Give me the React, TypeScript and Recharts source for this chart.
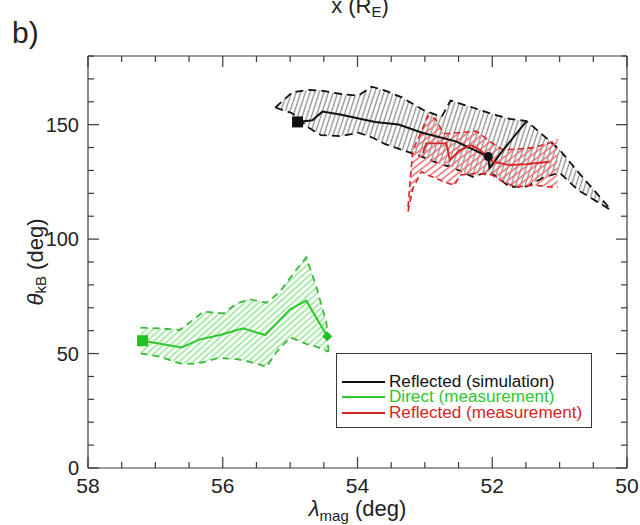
import React from "react";
import { ComposedChart, Area, Line, Scatter, XAxis, YAxis, Legend } from "recharts";

const xTicks = [58, 57.5, 57, 56.5, 56, 55.5, 55, 54.5, 54, 53.5, 53, 52.5, 52, 51.5, 51, 50.5, 50];
const xLabels = [58, 56, 54, 52, 50];
const yTicks = [0, 10, 20, 30, 40, 50, 60, 70, 80, 90, 100, 110, 120, 130, 140, 150, 160, 170, 180];
const yLabels = [0, 50, 100, 150];

// reflected, simulation (black)
const simLambda = [54.89, 54.67, 54.52, 54.24, 53.74, 53.39, 53.04, 52.54, 52.06, 52.04, 51.84, 51.49];
const simTheta = [151.2, 151.9, 155.7, 154.3, 151.2, 150.1, 146.5, 142.7, 136.1, 131.0, 138.9, 151.5];
const simBandLambda = [55.22, 54.97, 54.74, 54.54, 54.24, 53.99, 53.79, 53.59, 53.34, 53.0, 52.75, 52.62, 52.29, 52.04, 51.74, 51.49, 51.23, 51.0, 50.73, 50.23];
const simBandLow = [157.5, 155, 149, 145.4, 145, 146.5, 144.5, 141.5, 139, 135.5, 132.5, 131.7, 127.2, 129.5, 122.8, 123, 127, 129, 121.5, 112.5];
const simBandHigh = [157.5, 164.1, 165.2, 164.9, 163.4, 162.7, 166.6, 164.9, 161.9, 156, 153.5, 160.5, 157.5, 155, 152.5, 151.6, 145, 139, 129.5, 112.5];
const simStart = [{ x: 54.89, y: 151.2 }];
const simMark = [{ x: 52.06, y: 136.1 }];

// reflected, measurement (red)
const redLambda = [53.03, 52.98, 52.68, 52.63, 52.48, 52.31, 52.18, 52.11, 51.99, 51.74, 51.49, 51.15];
const redTheta = [137.6, 141.8, 141.8, 134.5, 138.9, 141, 138.9, 137.1, 133.8, 132.3, 132.8, 133.8];
const redBandLambda = [53.25, 53.18, 53.05, 52.96, 52.84, 52.72, 52.56, 52.48, 52.24, 52.0, 51.84, 51.64, 51.38, 51.15, 51.03];
const redBandLow = [112, 122, 129.5, 128, 126.7, 125, 123.6, 128, 128.7, 128, 125, 122.8, 123.6, 122.8, 122.8];
const redBandHigh = [114, 139, 147, 153.8, 152.4, 146, 146.5, 146.5, 147.2, 142, 139, 139.3, 140, 142, 143.5];

// direct, measurement (green)
const greenLambda = [57.19, 56.61, 56.34, 56.04, 55.7, 55.37, 55.0, 54.76, 54.45];
const greenTheta = [55.6, 52.7, 56.2, 58.1, 61.0, 58.1, 69.3, 73.1, 57.6];
const greenBandLambda = [57.22, 56.93, 56.64, 56.44, 56.29, 56.09, 55.99, 55.79, 55.6, 55.35, 55.2, 55.15, 55.0, 54.95, 54.76, 54.71, 54.61, 54.46, 54.43];
const greenBandLow = [50.1, 48.6, 45.7, 45.5, 46.2, 47.9, 47.9, 47.6, 46.4, 44.2, 50.8, 52.3, 57.1, 56.5, 54.2, 53.7, 53.0, 51.2, 50.8];
const greenBandHigh = [61.3, 61.0, 60.3, 64.6, 68.3, 67.8, 67.5, 71.9, 73.7, 72.2, 75.8, 77.0, 83.0, 85.0, 92.0, 87.7, 79.2, 63.2, 50.8];
const greenStart = [{ x: 57.19, y: 55.6 }];
const greenEnd = [{ x: 54.45, y: 57.6 }];

const legendNames = ["Reflected (simulation)", "Direct (measurement)", "Reflected (measurement)"];
const legendColors = ["#111111", "#2ec82e", "#d42424"];

const AXIS = "#3a3a3a";
const FONT = "'Liberation Sans', Arial, Helvetica, sans-serif";

const toLine = (xs: number[], ys: number[]) => xs.map((x, i) => ({ x, y: ys[i] }));
const toBand = (xs: number[], lo: number[], hi: number[]) => xs.map((x, i) => ({ x, range: [lo[i], hi[i]] }));

const simLine = toLine(simLambda, simTheta);
const redLine = toLine(redLambda, redTheta);
const greenLine = toLine(greenLambda, greenTheta);
const simBand = toBand(simBandLambda, simBandLow, simBandHigh);
const redBand = toBand(redBandLambda, redBandLow, redBandHigh);
const greenBand = toBand(greenBandLambda, greenBandLow, greenBandHigh);

// ticks point into the plot; long ones carry a label
const bottomTick = (props: any) => {
  const { x, y, payload } = props;
  const major = xLabels.includes(payload.value);
  const len = major ? 11 : 6;
  return (
    <g>
      <path d={`M${x},${y}V${y - len}`} stroke={AXIS} strokeWidth={1.2} fill="none" />
      {major && (
        <text x={x} y={y + 25} textAnchor="middle" fontSize={21} fill="#222" fontFamily={FONT}>
          {payload.value}
        </text>
      )}
    </g>
  );
};

const topTick = (props: any) => {
  const { x, y, payload } = props;
  const len = xLabels.includes(payload.value) ? 11 : 6;
  return <path d={`M${x},${y}V${y + len}`} stroke={AXIS} strokeWidth={1.2} fill="none" />;
};

const leftTick = (props: any) => {
  const { x, y, payload } = props;
  const major = yLabels.includes(payload.value);
  const len = major ? 11 : 6;
  return (
    <g>
      <path d={`M${x},${y}H${x + len}`} stroke={AXIS} strokeWidth={1.2} fill="none" />
      {major && (
        <text x={x - 9} y={y + 7} textAnchor="end" fontSize={20} fill="#222" fontFamily={FONT}>
          {payload.value}
        </text>
      )}
    </g>
  );
};

const rightTick = (props: any) => {
  const { x, y, payload } = props;
  const len = yLabels.includes(payload.value) ? 11 : 6;
  return <path d={`M${x},${y}H${x - len}`} stroke={AXIS} strokeWidth={1.2} fill="none" />;
};

const XTitle = (props: any) => {
  const { viewBox } = props;
  const cx = viewBox.x + viewBox.width / 2;
  const by = viewBox.y + 48;
  return (
    <text x={cx} y={by} textAnchor="middle" fontSize={22} fill="#222" fontFamily={FONT}>
      <tspan fontStyle="italic">λ</tspan>
      <tspan fontSize={15} dy={5}>mag</tspan>
      <tspan dy={-5}> (deg)</tspan>
    </text>
  );
};

const YTitle = (props: any) => {
  const { viewBox } = props;
  const cx = 35;
  const cy = viewBox.y + viewBox.height / 2;
  return (
    <text
      x={cx}
      y={cy}
      textAnchor="middle"
      fontSize={22}
      fill="#222"
      fontFamily={FONT}
      transform={`rotate(-90, ${cx}, ${cy})`}
      dominantBaseline="central"
    >
      <tspan fontStyle="italic">θ</tspan>
      <tspan fontSize={15} dy={5}>kB</tspan>
      <tspan dy={-5}> (deg)</tspan>
    </text>
  );
};

const LegendBox = () => (
  <div
    style={{
      border: `1px solid ${AXIS}`,
      background: "#fff",
      width: 256,
      height: 75,
      boxSizing: "border-box",
      padding: "20px 0 0 5px",
      fontFamily: FONT,
      fontSize: 16,
      lineHeight: "16px",
    }}
  >
    {legendNames.map((name, i) => (
      <div key={name} style={{ display: "flex", alignItems: "center", color: legendColors[i], height: 15.6 }}>
        <span style={{ display: "inline-block", width: 43, height: 2, background: legendColors[i], marginRight: 4 }} />
        <span style={{ display: "inline-block", transform: "scaleX(1.07)", transformOrigin: "left center" }}>{name}</span>
      </div>
    ))}
  </div>
);

const square = (color: string, size: number) => (p: any) => (
  <rect x={p.cx - size / 2} y={p.cy - size / 2} width={size} height={size} fill={color} />
);
const diamond = (color: string, size: number) => (p: any) => (
  <polygon
    points={`${p.cx},${p.cy - size / 2} ${p.cx + size / 2},${p.cy} ${p.cx},${p.cy + size / 2} ${p.cx - size / 2},${p.cy}`}
    fill={color}
  />
);
const circle = (color: string, r: number) => (p: any) => <circle cx={p.cx} cy={p.cy} r={r} fill={color} />;

export default function App() {
  return (
    <div style={{ position: "absolute", left: 0, top: 0, width: 640, height: 525, background: "#fff", fontFamily: FONT }}>
      <div style={{ position: "absolute", left: 12, top: 16, fontSize: 30, lineHeight: "34px", color: "#222", fontFamily: FONT }}>b)</div>
      <svg style={{ position: "absolute", left: 0, top: 0 }} width={640} height={30}>
        <text x={360} y={13} textAnchor="middle" fontSize={22} fill="#222" fontFamily={FONT}>
          x (R<tspan fontSize={15} dy={4}>E</tspan>
          <tspan dy={-4}>)</tspan>
        </text>
      </svg>
      <div style={{ position: "absolute", left: 0, top: 0 }}>
        <ComposedChart width={640} height={525} margin={{ top: 55, right: 12, bottom: 0, left: 0 }}>
          <defs>
            <pattern id="hatchBlack" patternUnits="userSpaceOnUse" width={4.4} height={4.4} patternTransform="rotate(18)">
              <line x1={2.2} y1={0} x2={2.2} y2={4.4} stroke="#8c8c8c" strokeWidth={1.3} />
            </pattern>
            <pattern id="hatchRed" patternUnits="userSpaceOnUse" width={5.2} height={5.2} patternTransform="rotate(52)">
              <line x1={2.6} y1={0} x2={2.6} y2={5.2} stroke="#ef7878" strokeWidth={1.6} />
            </pattern>
            <pattern id="hatchGreen" patternUnits="userSpaceOnUse" width={4.6} height={4.6} patternTransform="rotate(48)">
              <line x1={2.3} y1={0} x2={2.3} y2={4.6} stroke="#8ee48e" strokeWidth={1.5} />
            </pattern>
          </defs>
          <XAxis
            xAxisId="b"
            dataKey="x"
            type="number"
            domain={[50, 58]}
            reversed
            ticks={xTicks}
            interval={0}
            allowDataOverflow
            height={57}
            tickSize={0}
            tickMargin={0}
            tickLine={false}
            tick={bottomTick}
            axisLine={{ stroke: AXIS, strokeWidth: 1.2 }}
            label={<XTitle />}
          />
          <XAxis
            xAxisId="t"
            orientation="top"
            dataKey="x"
            type="number"
            domain={[50, 58]}
            reversed
            ticks={xTicks}
            interval={0}
            allowDataOverflow
            height={1}
            tickSize={0}
            tickMargin={0}
            tickLine={false}
            tick={topTick}
            axisLine={{ stroke: AXIS, strokeWidth: 1.2 }}
          />
          <YAxis
            yAxisId="l"
            type="number"
            domain={[0, 180]}
            ticks={yTicks}
            interval={0}
            allowDataOverflow
            width={88}
            tickSize={0}
            tickMargin={0}
            tickLine={false}
            tick={leftTick}
            axisLine={{ stroke: AXIS, strokeWidth: 1.2 }}
            label={<YTitle />}
          />
          <YAxis
            yAxisId="r"
            orientation="right"
            type="number"
            domain={[0, 180]}
            ticks={yTicks}
            interval={0}
            allowDataOverflow
            width={1}
            tickSize={0}
            tickMargin={0}
            tickLine={false}
            tick={rightTick}
            axisLine={{ stroke: AXIS, strokeWidth: 1.2 }}
          />

          <Area
            xAxisId="b"
            yAxisId="l"
            data={simBand}
            dataKey="range"
            type="linear"
            fill="url(#hatchBlack)"
            fillOpacity={1}
            stroke="#111"
            strokeWidth={1.8}
            strokeDasharray="8 5"
            dot={false}
            activeDot={false}
            legendType="none"
            isAnimationActive={false}
          />
          <Area
            xAxisId="b"
            yAxisId="l"
            data={redBand}
            dataKey="range"
            type="linear"
            fill="url(#hatchRed)"
            fillOpacity={1}
            stroke="#d42424"
            strokeWidth={1.6}
            strokeDasharray="6 4"
            dot={false}
            activeDot={false}
            legendType="none"
            isAnimationActive={false}
          />
          <Area
            xAxisId="b"
            yAxisId="l"
            data={greenBand}
            dataKey="range"
            type="linear"
            fill="url(#hatchGreen)"
            fillOpacity={1}
            stroke="#3db83d"
            strokeWidth={1.8}
            strokeDasharray="7 5"
            dot={false}
            activeDot={false}
            legendType="none"
            isAnimationActive={false}
          />

          <Line xAxisId="b" yAxisId="l" data={simLine} dataKey="y" type="linear" stroke="#111" strokeWidth={2} dot={false} activeDot={false} isAnimationActive={false} />
          <Line xAxisId="b" yAxisId="l" data={redLine} dataKey="y" type="linear" stroke="#d42424" strokeWidth={1.8} dot={false} activeDot={false} isAnimationActive={false} />
          <Line xAxisId="b" yAxisId="l" data={greenLine} dataKey="y" type="linear" stroke="#2ec82e" strokeWidth={2} dot={false} activeDot={false} isAnimationActive={false} />

          <Scatter xAxisId="b" yAxisId="l" data={simStart} dataKey="y" shape={square("#111", 11)} isAnimationActive={false} />
          <Scatter xAxisId="b" yAxisId="l" data={simMark} dataKey="y" shape={circle("#111", 4.5)} isAnimationActive={false} />
          <Scatter xAxisId="b" yAxisId="l" data={greenStart} dataKey="y" shape={square("#22c022", 11)} isAnimationActive={false} />
          <Scatter xAxisId="b" yAxisId="l" data={greenEnd} dataKey="y" shape={diamond("#22c022", 10)} isAnimationActive={false} />

          <Legend
            layout="vertical"
            align="center"
            verticalAlign="middle"
            wrapperStyle={{ position: "absolute", left: 336, top: 353, width: 256, height: 75 }}
            content={<LegendBox />}
          />
        </ComposedChart>
      </div>
    </div>
  );
}
